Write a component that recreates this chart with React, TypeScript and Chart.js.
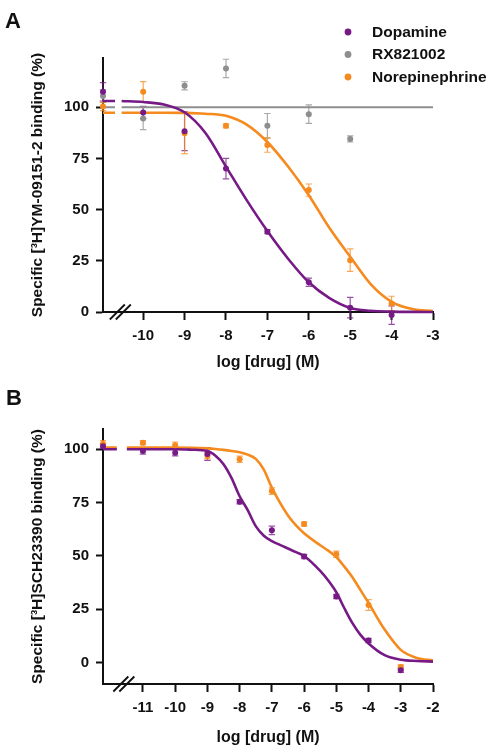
import React, { useEffect, useRef } from "react";
import { Chart, registerables } from "chart.js";

Chart.register(...registerables);

const FONT = '"Liberation Sans", Arial, Helvetica, sans-serif';
const TEXT = "#111111";
const PURPLE = "#761a86";
const ORANGE = "#f58a1e";
const GRAY = "#8e8e8e";

// ---------- Panel A ----------
const aXTicks = [-10, -9, -8, -7, -6, -5, -4, -3];
const aYTicks = [0, 25, 50, 75, 100];
const aXMin = -10.97;
const aXMax = -3;
const aYMin = 0;
const aYMax = 124;
const aBreak = [-10.68, -10.52];
// first x = vehicle (no drug), plotted at the left of the axis break
const aDoseX = [-10.97, -10, -9, -8, -7, -6, -5, -4];
const aDopamine = [107.5, 97.4, 88.3, 70, 39.2, 14.5, 2.1, -1.5];
const aDopamineErr = [4.5, 3, 9.5, 5, 1, 2, 5, 4.5];
const aRxX = [-10.97, -10, -9, -8, -7, -6, -5];
const aRx = [105.5, 94.5, 110.4, 118.9, 90.9, 96.6, 84.5];
const aRxErr = [3, 5.5, 2, 4.5, 6, 4.5, 1.5];
const aNorepi = [100.3, 107.5, 87.3, 90.9, 81.5, 59.5, 25.3, 4.2];
const aNorepiErr = [2, 5, 10, 1, 3.5, 3, 5.5, 3.5];
const aCurveX = [-10.97, -10.68, -10.52, -10, -9.5, -9, -8.5, -8, -7.5, -7, -6.5, -6, -5.5, -5, -4.5, -4, -3.5, -3];
const aDopamineFit = [103, 103, 103, 102.5, 101.3, 97.5, 87.5, 71, 54.6, 39.5, 26, 14.5, 6.8, 2, 0.6, 0.2, 0.05, 0];
const aNorepiFit = [97.3, 97.3, 97.3, 97.3, 97.3, 97.2, 96.8, 95.8, 91.5, 83, 71, 57, 41, 27, 13.5, 5, 1.5, 0.5];
const aRxFitX = [-10.97, -10.68, -10.52, -3];
const aRxFit = [100, 100, 100, 100];

// ---------- Panel B ----------
const bXTicks = [-11, -10, -9, -8, -7, -6, -5, -4, -3, -2];
const bYTicks = [0, 25, 50, 75, 100];
const bXMin = -12.24;
const bXMax = -2;
const bYMin = -10;
const bYMax = 109.5;
const bBreak = [-11.81, -11.5];
const bDoseX = [-12.24, -11, -10, -9, -8, -7, -6, -5, -4, -3];
const bDopamine = [101.4, 99.2, 98.4, 97.8, 75.4, 62, 49.7, 31, 10.4, -3.6];
const bDopamineErr = [1, 1.5, 1.5, 3, 1, 2, 1, 1, 1, 1];
const bNorepi = [102.6, 103.1, 101.9, 97, 95.3, 80.4, 65, 50.8, 27, -2];
const bNorepiErr = [1.5, 1, 1.5, 1.5, 1.5, 1.5, 1, 1.5, 2.5, 1];
const bCurveX = [-12.24, -11.81, -11.5, -11, -10, -9.5, -9, -8.75, -8.5, -8.25, -8, -7.75, -7.5, -7.25, -7, -6.75, -6.5, -6.25, -6, -5.5, -5.25, -5, -4.75, -4.5, -4.25, -4, -3.5, -3, -2.5, -2];
const bDopamineFit = [100, 100, 100, 100, 100, 99.8, 99.2, 97, 93, 86.5, 78, 71.5, 64, 59.5, 57, 55.2, 53.5, 51.8, 50, 43, 38.5, 33, 25.5, 18.5, 13, 9, 3.5, 1.4, 0.8, 0.5];
const bNorepiFit = [100.8, 100.8, 100.8, 100.8, 100.8, 100.7, 100.4, 100.1, 99.7, 99.2, 98.6, 97.5, 95.5, 90.5, 82, 75, 69, 64.3, 60.6, 55, 52.5, 49.5, 45, 40, 34, 28, 15.5, 6, 2.2, 1];

function points(xs: number[], ys: number[]) {
  return xs.map((x, i) => ({ x, y: ys[i] }));
}

function curve(xs: number[], ys: number[], brk: number[]) {
  const out: any[] = [];
  xs.forEach((x, i) => {
    if (i > 0 && xs[i - 1] <= brk[0] && x >= brk[1]) out.push({ x: (xs[i - 1] + x) / 2, y: null });
    out.push({ x, y: ys[i] });
  });
  return out;
}

function pointSet(label: string, color: string, xs: number[], ys: number[], errs: number[], legend: boolean) {
  return {
    label,
    legendLabel: legend ? label : null,
    data: points(xs, ys),
    errors: errs,
    errorColor: color,
    showLine: false,
    pointRadius: 3,
    pointBackgroundColor: color,
    pointBorderColor: color,
    pointBorderWidth: 0,
    clip: false,
  };
}

function curveSet(label: string, color: string, xs: number[], ys: number[], brk: number[], width: number) {
  return {
    label,
    data: curve(xs, ys, brk),
    borderColor: color,
    borderWidth: width,
    pointRadius: 0,
    cubicInterpolationMode: "monotone",
    spanGaps: false,
    fill: false,
    clip: false,
  };
}

const errorBarPlugin = {
  id: "errorBars",
  beforeDatasetsDraw(chart: any) {
    const ctx = chart.ctx;
    const ys = chart.scales.y;
    chart.data.datasets.forEach((ds: any, di: number) => {
      if (!ds.errors) return;
      const meta = chart.getDatasetMeta(di);
      ctx.save();
      ctx.strokeStyle = ds.errorColor;
      ctx.globalAlpha = 0.75;
      ctx.lineWidth = 1.2;
      meta.data.forEach((pt: any, i: number) => {
        const v = ds.data[i].y;
        const e = ds.errors[i];
        if (!e) return;
        const x = pt.x;
        const t = ys.getPixelForValue(v + e);
        const b = ys.getPixelForValue(v - e);
        const cap = 3.2;
        ctx.beginPath();
        ctx.moveTo(x, t);
        ctx.lineTo(x, b);
        ctx.moveTo(x - cap, t);
        ctx.lineTo(x + cap, t);
        ctx.moveTo(x - cap, b);
        ctx.lineTo(x + cap, b);
        ctx.stroke();
      });
      ctx.restore();
    });
  },
};

const breakPlugin = {
  id: "axisBreak",
  afterDraw(chart: any, _args: any, opts: any) {
    if (!opts || !opts.at) return;
    const ctx = chart.ctx;
    const cx = chart.scales.x.getPixelForValue((opts.at[0] + opts.at[1]) / 2) + 2;
    const cy = chart.chartArea.bottom;
    ctx.save();
    ctx.strokeStyle = TEXT;
    ctx.lineWidth = 1.8;
    [-3, 3].forEach((o) => {
      ctx.beginPath();
      ctx.moveTo(cx + o - 7.5, cy + 7.5);
      ctx.lineTo(cx + o + 7.5, cy - 7.5);
      ctx.stroke();
    });
    ctx.restore();
  },
};

const legendPlugin = {
  id: "sideLegend",
  afterDraw(chart: any, _args: any, opts: any) {
    if (!opts || !opts.show) return;
    const ctx = chart.ctx;
    const items = chart.data.datasets.filter((d: any) => d.legendLabel);
    const dotX = chart.chartArea.right - 85;
    const textX = chart.chartArea.right - 61;
    ctx.save();
    ctx.font = `bold 15.5px ${FONT}`;
    ctx.textBaseline = "middle";
    ctx.textAlign = "left";
    items.forEach((d: any, i: number) => {
      const y = chart.chartArea.top - 26 + i * 22.5;
      ctx.fillStyle = d.pointBackgroundColor;
      ctx.beginPath();
      ctx.arc(dotX, y, 3.4, 0, Math.PI * 2);
      ctx.fill();
      ctx.fillStyle = TEXT;
      ctx.fillText(d.legendLabel, textX, y + 0.5);
    });
    ctx.restore();
  },
};

function makeOptions(p: any) {
  const tickFont = { family: FONT, size: 15, weight: "bold" as const };
  const titleFont = { family: FONT, size: 15.5, weight: "bold" as const };
  return {
    responsive: false,
    animation: false,
    devicePixelRatio: 1,
    events: [],
    layout: { padding: { left: 0, top: p.padTop, right: 59, bottom: 0 } },
    plugins: {
      legend: { display: false },
      tooltip: { enabled: false },
      axisBreak: { at: p.brk },
      sideLegend: { show: p.legend },
    },
    scales: {
      x: {
        type: "linear",
        min: p.xMin,
        max: p.xMax,
        afterBuildTicks: (s: any) => {
          s.ticks = p.xTicks.map((v: number) => ({ value: v }));
        },
        afterFit: (s: any) => {
          s.height = p.xHeight;
        },
        ticks: {
          color: TEXT,
          font: tickFont,
          padding: 7,
          maxRotation: 0,
          autoSkip: false,
          callback: (v: any) => String(v),
        },
        grid: { drawOnChartArea: false, tickLength: 8, tickWidth: 2, tickColor: TEXT },
        border: { color: TEXT, width: 2 },
        title: {
          display: true,
          text: "log [drug] (M)",
          color: TEXT,
          font: { family: FONT, size: 16, weight: "bold" as const },
          padding: { top: 0, bottom: 3 },
        },
      },
      y: {
        type: "linear",
        min: p.yMin,
        max: p.yMax,
        afterBuildTicks: (s: any) => {
          s.ticks = p.yTicks.map((v: number) => ({ value: v }));
        },
        afterFit: (s: any) => {
          s.width = 103;
        },
        ticks: { color: TEXT, font: tickFont, padding: 7, callback: (v: any) => String(v) },
        grid: { drawOnChartArea: false, tickLength: 7, tickWidth: 2, tickColor: TEXT },
        border: { color: TEXT, width: 2 },
        title: {
          display: true,
          text: p.yTitle,
          color: TEXT,
          font: titleFont,
          padding: { top: 28, bottom: 0 },
        },
      },
    },
  };
}

function configA() {
  return {
    type: "line",
    data: {
      datasets: [
        pointSet("Dopamine", PURPLE, aDoseX, aDopamine, aDopamineErr, true),
        pointSet("RX821002", GRAY, aRxX, aRx, aRxErr, true),
        pointSet("Norepinephrine", ORANGE, aDoseX, aNorepi, aNorepiErr, true),
        curveSet("Dopamine fit", PURPLE, aCurveX, aDopamineFit, aBreak, 2.6),
        curveSet("Norepinephrine fit", ORANGE, aCurveX, aNorepiFit, aBreak, 2.6),
        curveSet("RX821002 fit", GRAY, aRxFitX, aRxFit, aBreak, 2),
      ],
    },
    options: makeOptions({
      padTop: 58,
      xHeight: 63,
      xMin: aXMin,
      xMax: aXMax,
      yMin: aYMin,
      yMax: aYMax,
      xTicks: aXTicks,
      yTicks: aYTicks,
      brk: aBreak,
      legend: true,
      yTitle: "Specific [³H]YM-09151-2 binding (%)",
    }),
    plugins: [errorBarPlugin, breakPlugin, legendPlugin],
  };
}

function configB() {
  return {
    type: "line",
    data: {
      datasets: [
        pointSet("Dopamine", PURPLE, bDoseX, bDopamine, bDopamineErr, false),
        pointSet("Norepinephrine", ORANGE, bDoseX, bNorepi, bNorepiErr, false),
        curveSet("Dopamine fit", PURPLE, bCurveX, bDopamineFit, bBreak, 2.6),
        curveSet("Norepinephrine fit", ORANGE, bCurveX, bNorepiFit, bBreak, 2.6),
      ],
    },
    options: makeOptions({
      padTop: 54,
      xHeight: 66,
      xMin: bXMin,
      xMax: bXMax,
      yMin: bYMin,
      yMax: bYMax,
      xTicks: bXTicks,
      yTicks: bYTicks,
      brk: bBreak,
      legend: false,
      yTitle: "Specific [³H]SCH23390 binding (%)",
    }),
    plugins: [errorBarPlugin, breakPlugin, legendPlugin],
  };
}

function Panel({ make, top }: { make: () => any; top: number }) {
  const ref = useRef<HTMLCanvasElement | null>(null);
  useEffect(() => {
    if (!ref.current) return;
    const chart = new Chart(ref.current, make());
    return () => chart.destroy();
  }, [make]);
  return (
    <canvas
      ref={ref}
      width={492}
      height={375}
      style={{ position: "absolute", left: 0, top, width: 492, height: 375 }}
    />
  );
}

const labelStyle: React.CSSProperties = {
  position: "absolute",
  fontFamily: FONT,
  fontWeight: "bold",
  fontSize: 22,
  lineHeight: "22px",
  color: TEXT,
};

export default function App() {
  return (
    <div style={{ position: "absolute", left: 0, top: 0, width: 492, height: 750, background: "#fff" }}>
      <Panel make={configA} top={0} />
      <Panel make={configB} top={375} />
      <div style={{ ...labelStyle, left: 5, top: 10 }}>A</div>
      <div style={{ ...labelStyle, left: 6, top: 387 }}>B</div>
    </div>
  );
}
